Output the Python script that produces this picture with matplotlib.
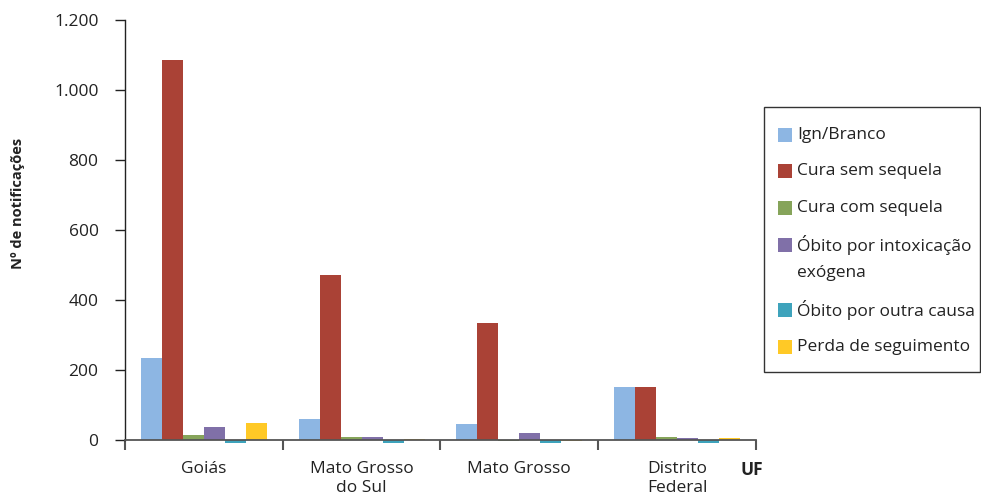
import matplotlib
matplotlib.use("Agg")
import matplotlib.pyplot as plt
from matplotlib.patches import Rectangle
import numpy as np

plt.rcParams['font.family'] = ['Open Sans', 'DejaVu Sans']

ufs = ["Goiás", "Mato Grosso\ndo Sul", "Mato Grosso", "Distrito\nFederal"]
series = ["Ign/Branco", "Cura sem sequela", "Cura com sequela",
          "Óbito por intoxicação\nexógena", "Óbito por outra causa",
          "Perda de seguimento"]
ign_branco = [234, 60, 46, 151]
cura_sem_sequela = [1086, 471, 334, 151]
cura_com_sequela = [15, 8, -3, 8]
obito_intoxicacao = [38, 10, 21, 5]
obito_outra_causa = [-8, -8, -8, -8]
perda_seguimento = [49, 4, -3, 5]
values = [ign_branco, cura_sem_sequela, cura_com_sequela,
          obito_intoxicacao, obito_outra_causa, perda_seguimento]
colors = ["#8DB6E3", "#AA4236", "#86A45A", "#8070A8", "#3EA3BC", "#FFC926"]
yticks = [0, 200, 400, 600, 800, 1000, 1200]
ytick_labels = ["0", "200", "400", "600", "800", "1.000", "1.200"]

TXT = '#222222'
FS = 12.5
W, H = 981, 501
fig = plt.figure(figsize=(W / 100, H / 100), dpi=100)
ax = fig.add_axes([125 / W, 1 - 440 / H, (756 - 125) / W, (440 - 20) / H])

x = np.arange(len(ufs))
bw = 0.8 / len(series)
for i, (vals, col) in enumerate(zip(values, colors)):
    ax.bar(x - 0.4 + bw * (i + 0.5), vals, width=bw, color=col,
           clip_on=False, zorder=2, linewidth=0)

ax.set_xlim(-0.5, len(ufs) - 0.5)
ax.set_ylim(0, 1200)

ax.spines['top'].set_visible(False)
ax.spines['right'].set_visible(False)
ax.spines['left'].set_color(TXT)
ax.spines['left'].set_linewidth(1.0)
ax.spines['bottom'].set_color('#555555')
ax.spines['bottom'].set_linewidth(1.3)
ax.spines['bottom'].set_zorder(3)

ax.set_yticks(yticks)
ax.set_yticklabels(ytick_labels, fontsize=FS, color=TXT)
ax.tick_params(axis='y', length=7, width=1, color=TXT, pad=12)

ax.set_xticks(x)
ax.set_xticklabels(ufs, fontsize=FS, color=TXT, linespacing=1.25)
ax.tick_params(axis='x', which='major', length=0, pad=15)
ax.set_xticks(np.arange(len(ufs) + 1) - 0.5, minor=True)
ax.tick_params(axis='x', which='minor', length=7, width=1.5, color='#555555')

fig.text(18 / W, 1 - 203 / H, "Nº de notificações", fontsize=10.5,
         fontweight='bold', color=TXT, rotation=90, ha='center', va='center')
fig.text(752 / W, 1 - 470 / H, "UF", fontsize=FS, fontweight='bold',
         color=TXT, ha='center', va='center')

# Legend box, drawn in pixel coordinates of the figure
def fx(px):
    return px / W

def fy(py):
    return 1 - py / H

fig.patches.append(Rectangle((fx(764), fy(372)), fx(980) - fx(764),
                             fy(107) - fy(372), transform=fig.transFigure,
                             fill=False, edgecolor='#333333', linewidth=1.0))
entry_y = [135, 171, 208, 245, 310, 347]
for name, col, yc in zip(series, colors, entry_y):
    fig.patches.append(Rectangle((fx(778), fy(yc + 7)), fx(14), 14 / H,
                                 transform=fig.transFigure, color=col,
                                 linewidth=0))
    lines = name.split("\n")
    for k, line in enumerate(lines):
        fig.text(fx(797), fy(yc + 28 * k), line, fontsize=FS, color=TXT,
                 ha='left', va='center')

fig.savefig("out.png", dpi=100)
